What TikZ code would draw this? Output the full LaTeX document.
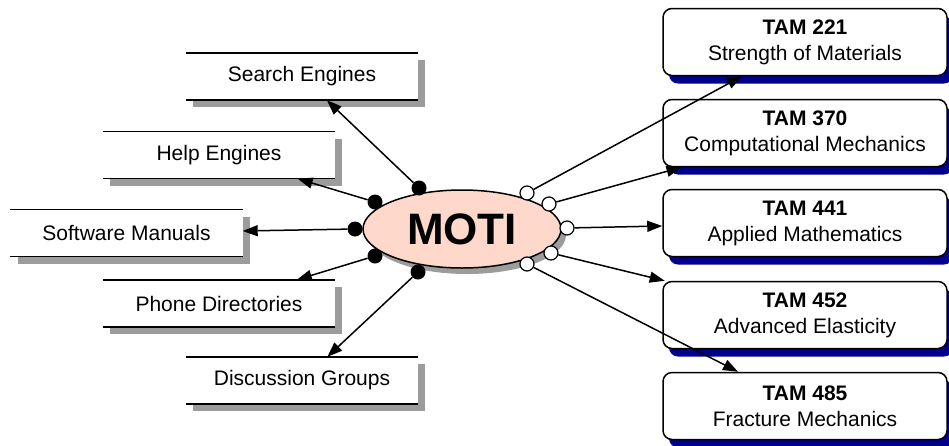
\documentclass[tikz,border=0pt]{standalone}
\usepackage{fontspec}
\setmainfont{Liberation Sans}
\usetikzlibrary{arrows.meta,shapes.geometric,shadows}
\definecolor{motipink}{HTML}{FFD8CC}
\definecolor{shadegrey}{HTML}{9C9C9C}
\definecolor{shadenavy}{HTML}{00008C}

\begin{document}
\begin{tikzpicture}[x=1pt,y=-1pt,
  font=\fontsize{21}{26}\selectfont,
  resource/.style={rectangle, fill=white, inner sep=0pt,
    minimum width=232pt, minimum height=47pt,
    drop shadow={shadow xshift=7pt, shadow yshift=-7pt, fill=shadegrey, opacity=1}},
  course/.style={rectangle, rounded corners=9pt, draw=black, line width=1.5pt,
    fill=white, inner sep=0pt, align=center,
    minimum width=284pt, minimum height=67pt,
    drop shadow={shadow xshift=6pt, shadow yshift=-8pt, fill=shadenavy, opacity=1}},
  hub/.style={ellipse, draw=black, line width=1.5pt, fill=motipink, inner sep=0pt,
    minimum width=198pt, minimum height=78pt,
    font=\fontsize{44}{50}\selectfont\bfseries,
    drop shadow={shadow xshift=5pt, shadow yshift=-6pt, fill=shadegrey, opacity=1}},
  rule/.style={line width=1.5pt},
  outdot/.style={circle, fill=black, inner sep=0pt, minimum size=15pt},
  indot/.style={circle, draw=black, line width=1.2pt, fill=white, inner sep=0pt, minimum size=14pt},
  link/.style={line width=1.5pt, -{Triangle[length=15pt,width=11pt]}}
]
\useasboundingbox (0,0) rectangle (949,445);

% resource boxes on the left: shadow, white face, rules above and below
\foreach \n/\x/\y/\t in {se/302/76.5/Search Engines, he/219/155/Help Engines,
    sm/126.5/233/Software Manuals, pd/219/303.5/Phone Directories,
    dg/302/380.5/Discussion Groups} {
  \node[resource] (\n) at (\x,\y) {\t};
  \draw[rule] (\n.north west) -- (\n.north east);
  \draw[rule] (\n.south west) -- (\n.south east);
}

% course boxes on the right
\node[course] (c221) at (805,42)  {\textbf{TAM 221}\\Strength of Materials};
\node[course] (c370) at (805,133) {\textbf{TAM 370}\\Computational Mechanics};
\node[course] (c441) at (805,223) {\textbf{TAM 441}\\Applied Mathematics};
\node[course] (c452) at (805,315) {\textbf{TAM 452}\\Advanced Elasticity};
\node[course] (c485) at (805,406) {\textbf{TAM 485}\\Fracture Mechanics};

% central hub
\node[hub] (moti) at (462,229) {MOTI};

% ports on the hub
\node[outdot] (p1) at (419,188) {};
\node[outdot] (p2) at (375,202) {};
\node[outdot] (p3) at (355,229) {};
\node[outdot] (p4) at (375,256) {};
\node[outdot] (p5) at (418,272) {};
\node[indot] (q1) at (527,193) {};
\node[indot] (q2) at (549,204) {};
\node[indot] (q3) at (567,228) {};
\node[indot] (q4) at (551,253) {};
\node[indot] (q5) at (527,264) {};

% connectors
\draw[link] (p1) -- (se);
\draw[link] (p2) -- (he);
\draw[link] (p3) -- (sm);
\draw[link] (p4) -- (pd);
\draw[link] (p5) -- (dg);
\draw[link] (q1) -- (c221);
\draw[link] (q2) -- (c370);
\draw[link] (q3) -- (c441);
\draw[link] (q4) -- (c452);
\draw[link] (q5) -- (c485);
\end{tikzpicture}
\end{document}
